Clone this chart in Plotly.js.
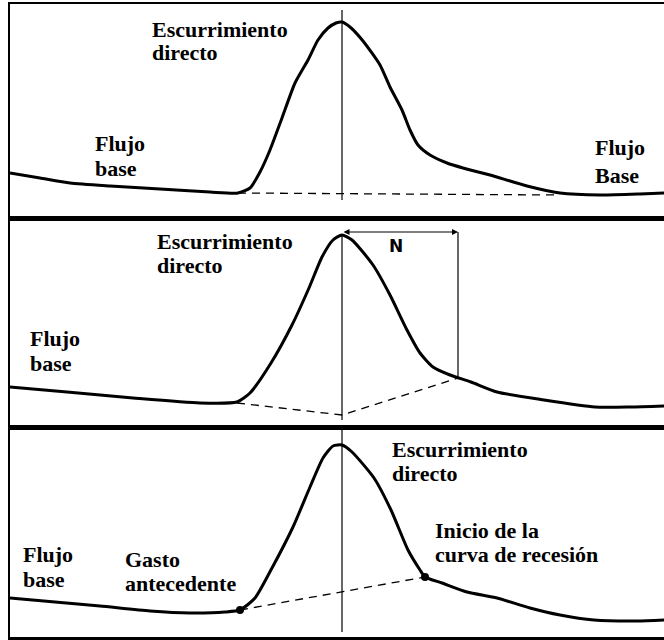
<!DOCTYPE html>
<html>
<head>
<meta charset="utf-8">
<script src="https://cdn.plot.ly/plotly-3.0.1.min.js"></script>
<style>
  html, body { margin: 0; padding: 0; background: #fff; }
  #chart { width: 664px; height: 640px; }
</style>
</head>
<body>
<div id="chart"></div>
<script>
// hidrograma 1: separación con línea horizontal
const t1 = [10, 40, 70, 110, 160, 210, 238, 250, 260, 270, 282, 295, 308, 318, 328, 336, 342, 350, 363, 380, 390, 402, 410, 418, 430, 447, 463, 490, 527, 560, 600, 640, 664];
const q1 = [173, 178, 183, 186, 189, 192, 193, 188, 172, 150, 118, 83, 60, 40, 28, 23, 22, 27, 41, 65, 87, 110, 130, 145, 155, 163, 168, 175, 186, 193, 195, 194, 193];
const base1T = [238, 560];
const base1Q = [193, 195];

// hidrograma 2: método de N días
const t2 = [10, 67, 133, 200, 237, 250, 271, 292, 309, 322, 333, 342, 352, 373, 390, 407, 420, 433, 450, 471, 497, 544, 595, 630, 664];
const q2 = [387, 392, 398, 403, 402, 393, 363, 325, 288, 257, 240, 235, 240, 265, 295, 330, 353, 367, 375, 382, 392, 400, 407, 407, 406];
const base2T = [237, 342, 458];
const base2Q = [403, 415, 378];
const nT = [458, 458];
const nQ = [232, 378];

// hidrograma 3: gasto antecedente e inicio de la recesión
const t3 = [10, 55, 100, 150, 190, 225, 240, 255, 272, 293, 310, 323, 333, 342, 352, 374, 391, 408, 420, 425, 442, 467, 497, 530, 560, 594, 637, 664];
const q3 = [598, 602, 606, 611, 613, 612, 610, 598, 568, 527, 487, 458, 446, 445, 452, 478, 510, 550, 570, 577, 583, 592, 598, 608, 615, 620, 621, 620];
const puntosT = [240, 425];
const puntosQ = [610, 577];

const tPico = 342;
const verticales = [[10, 200], [235, 420], [427, 632]];

function ejes(n) {
  const s = n > 1 ? String(n) : '';
  return { xaxis: 'x' + s, yaxis: 'y' + s };
}

function curva(x, y, n) {
  return {
    x, y, ...ejes(n), mode: 'lines', hoverinfo: 'skip',
    line: { color: '#000', width: 3, shape: 'spline', smoothing: 0.6 }
  };
}

function recta(x, y, n, dash, width) {
  return {
    x, y, ...ejes(n), mode: 'lines', hoverinfo: 'skip',
    line: { color: '#000', width: width, dash: dash }
  };
}

const traces = [
  curva(t1, q1, 1),
  recta(base1T, base1Q, 1, '8px,6px', 1.3),
  recta([tPico, tPico], verticales[0], 1, 'solid', 1.2),
  curva(t2, q2, 2),
  recta(base2T, base2Q, 2, '8px,6px', 1.3),
  recta([tPico, tPico], verticales[1], 2, 'solid', 1.2),
  recta(nT, nQ, 2, 'solid', 1.2),
  curva(t3, q3, 3),
  recta(puntosT, puntosQ, 3, '8px,6px', 1.3),
  recta([tPico, tPico], verticales[2], 3, 'solid', 1.2),
  {
    x: puntosT, y: puntosQ, ...ejes(3), mode: 'markers', hoverinfo: 'skip',
    marker: { color: '#000', size: 8 }
  }
];

// pixel rows of each panel: top, bottom
const paneles = [[4, 218], [218, 427], [427, 637]];
const alto = 633, abajo = 637;

const layout = {
  width: 664, height: 640,
  margin: { l: 10, r: 0, t: 4, b: 3 },
  paper_bgcolor: '#fff', plot_bgcolor: '#fff',
  showlegend: false
};

paneles.forEach((p, i) => {
  const s = i > 0 ? String(i + 1) : '';
  layout['xaxis' + s] = {
    range: [10, 664], domain: [0, 1], anchor: 'y' + s,
    showline: true, mirror: true, linecolor: '#000', linewidth: 2.5,
    showgrid: false, zeroline: false, showticklabels: false, ticks: '', fixedrange: true
  };
  layout['yaxis' + s] = {
    range: [p[1], p[0]], anchor: 'x' + s,
    domain: [(abajo - p[1]) / alto, (abajo - p[0]) / alto],
    showline: true, linecolor: '#000', linewidth: 2.5,
    showgrid: false, zeroline: false, showticklabels: false, ticks: '', fixedrange: true
  };
});

const fuente = { family: '"Liberation Serif", "Times New Roman", serif', size: 22, color: '#000' };

function rotulo(text, x, y, n) {
  const s = n > 1 ? String(n) : '';
  return {
    text: '<b>' + text + '</b>', x, y, xref: 'x' + s, yref: 'y' + s,
    xanchor: 'left', yanchor: 'middle', showarrow: false, font: fuente
  };
}

layout.annotations = [
  rotulo('Escurrimiento', 150, 29, 1),
  rotulo('directo', 150, 52, 1),
  rotulo('Flujo', 93, 143, 1),
  rotulo('base', 93, 168, 1),
  rotulo('Flujo', 593, 147, 1),
  rotulo('Base', 593, 175, 1),

  rotulo('Escurrimiento', 155, 242, 2),
  rotulo('directo', 155, 265, 2),
  rotulo('Flujo', 28, 338, 2),
  rotulo('base', 28, 363, 2),
  {
    text: '<b>N</b>', x: 396, y: 246, xref: 'x2', yref: 'y2', showarrow: false,
    font: { family: '"DejaVu Sans", sans-serif', size: 17, color: '#000' }
  },
  {
    text: '', x: 458, y: 232, ax: 342, ay: 232, xref: 'x2', yref: 'y2', axref: 'x2', ayref: 'y2',
    showarrow: true, arrowside: 'end+start', arrowhead: 2, arrowsize: 1, arrowwidth: 1.2, arrowcolor: '#000'
  },

  rotulo('Escurrimiento', 390, 449, 3),
  rotulo('directo', 390, 473, 3),
  rotulo('Flujo', 21, 554, 3),
  rotulo('base', 21, 579, 3),
  rotulo('Gasto', 123, 559, 3),
  rotulo('antecedente', 123, 583, 3),
  rotulo('Inicio de la', 433, 530, 3),
  rotulo('curva de recesión', 433, 554, 3)
];

Plotly.newPlot('chart', traces, layout, { displayModeBar: false, staticPlot: true });
</script>
</body>
</html>
